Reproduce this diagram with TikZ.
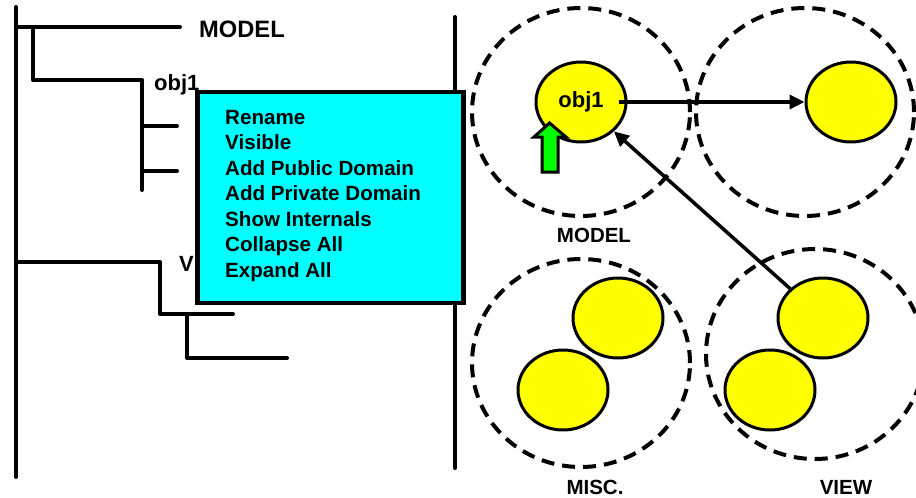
\documentclass[tikz,border=0pt]{standalone}
\usepackage{fontspec}
\setmainfont{Liberation Sans}
\usetikzlibrary{shapes.geometric,arrows.meta}

\begin{document}
\begin{tikzpicture}[x=1pt,y=-1pt,
    treeline/.style={line width=4pt,line cap=round,line join=round},
    treelabel/.style={anchor=base west,inner sep=0pt,font=\fontsize{22}{26}\selectfont\bfseries},
    menuitem/.style={anchor=base west,inner sep=0pt,font=\fontsize{20.6}{24}\selectfont\bfseries},
    domainring/.style={shape=ellipse,draw,dash pattern=on 13pt off 8pt,line width=4pt,minimum width=218pt,minimum height=208pt},
    objball/.style={shape=ellipse,draw,fill=objyellow,line width=3pt,minimum width=90pt,minimum height=80pt,inner sep=0pt,font=\fontsize{22}{26}\selectfont\bfseries},
    domlabel/.style={anchor=base,inner sep=0pt,font=\fontsize{20.5}{24}\selectfont\bfseries},
    link/.style={line width=3.5pt,-{Triangle[length=15pt,width=14pt]}}]
    \definecolor{objyellow}{RGB}{255,255,0}
    \definecolor{menucyan}{RGB}{0,255,255}
    \definecolor{arrowgreen}{RGB}{0,255,0}
    \useasboundingbox (0,0) rectangle (916,498);

    % tree on the left
    \draw[treeline] (16,7) -- (16,477);
    \draw[treeline] (16,27) -- (180,27);
    \draw[treeline] (33,27) -- (33,80) -- (142,80) -- (142,190);
    \draw[treeline] (142,126) -- (177,126);
    \draw[treeline] (142,171) -- (177,171);
    \draw[treeline] (16,262) -- (160,262) -- (160,314) -- (233,314);
    \draw[treeline] (187,314) -- (187,358) -- (287,358);
    \draw[treeline] (455,17) -- (455,468);
    \node[treelabel,font=\fontsize{23.7}{28}\selectfont\bfseries] (treemodel) at (199,37) {MODEL};
    \node[treelabel] (treeobj) at (154,90) {obj1};
    \node[treelabel] (treeview) at (179,271) {V};

    % popup menu
    \node[shape=rectangle,draw,fill=menucyan,line width=4.5pt,minimum width=266pt,minimum height=211pt,inner sep=0pt] (menu) at (330.5,197.5) {};
    \node[menuitem] (m1) at (225,124)   {Rename};
    \node[menuitem] (m2) at (225,149.5) {Visible};
    \node[menuitem] (m3) at (225,175)   {Add Public Domain};
    \node[menuitem] (m4) at (225,200.5) {Add Private Domain};
    \node[menuitem] (m5) at (225,226)   {Show Internals};
    \node[menuitem] (m6) at (225,251.5) {Collapse All};
    \node[menuitem] (m7) at (225,277)   {Expand All};

    % objects
    \node[objball] (obj1) at (581,102) {obj1};
    \node[objball] (mtr) at (851,102) {};
    \node[objball] (misca) at (618,318) {};
    \node[objball] (miscb) at (563,390) {};
    \node[objball] (viewa) at (823,318) {};
    \node[objball] (viewb) at (770,390) {};

    % domains
    \node[domainring] (model) at (581,112) {};
    \node[domainring] (other) at (805,112) {};
    \node[domainring] (misc) at (581,363) {};
    \node[domainring,minimum height=210pt] (view) at (815,354) {};
    \node[domlabel] (modellabel) at (594,242) {MODEL};
    \node[domlabel] (misclabel) at (595,494) {MISC.};
    \node[domlabel] (viewlabel) at (846,494) {VIEW};

    % references
    \draw[link] ([xshift=-9pt]obj1.east) -- (mtr.west);
    \draw[link] (viewa) -- (obj1);
    \coordinate (gtip) at (549.5,123);
    \draw[line width=3pt,fill=arrowgreen,line join=miter] (gtip) -- ++(16.5,14) -- ++(-8,0) -- ++(0,35) -- ++(-16,0) -- ++(0,-35) -- ++(-8,0) -- cycle;
\end{tikzpicture}
\end{document}
